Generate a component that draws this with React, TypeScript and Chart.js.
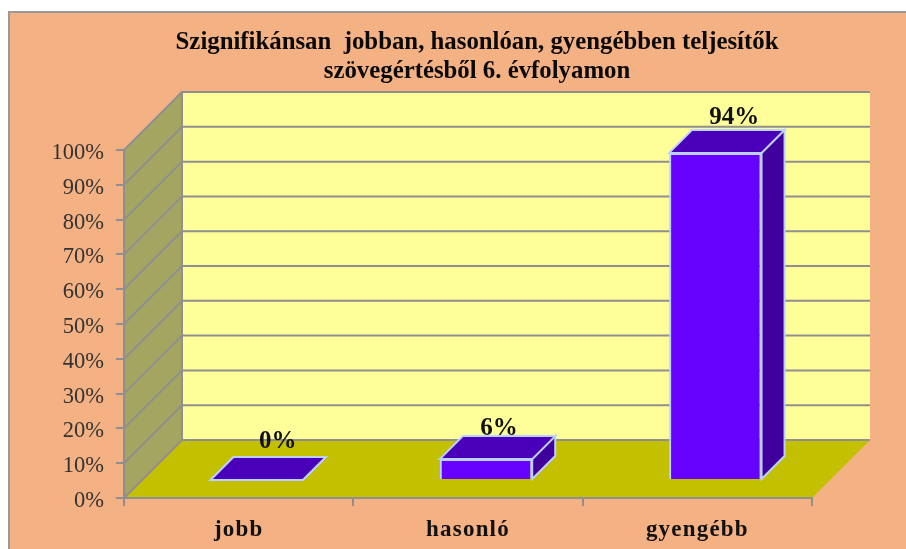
import React, { useEffect, useRef } from "react";
import { Chart, registerables } from "chart.js";

Chart.register(...registerables);

const categories = ["jobb", "hasonló", "gyengébb"];
const shares = [0, 6, 94];
const titleLines = [
  "Szignifikánsan  jobban, hasonlóan, gyengébben teljesítők",
  "szövegértésből 6. évfolyamon",
];
const labelNudgeX = [21, 13, 19];
const labelNudgeY = [-15, -8, -12];

const SERIF = "'Liberation Serif', 'Times New Roman', serif";
const GRID = "#8f8f8f";
const EDGE = "#bcd0ff";
const WALL_DEPTH = 58;
const BAR_SHIFT = 18;
const BAR_DEPTH = 23;

const poly = (ctx: CanvasRenderingContext2D, pts: number[][], fill: string) => {
  ctx.beginPath();
  pts.forEach(([x, y], i) => (i ? ctx.lineTo(x, y) : ctx.moveTo(x, y)));
  ctx.closePath();
  ctx.fillStyle = fill;
  ctx.fill();
};

const box3d = {
  id: "box3d",
  beforeDraw(chart: any) {
    const { ctx, chartArea: a, scales } = chart;
    const d = WALL_DEPTH;
    const y = scales.y;
    ctx.save();
    poly(ctx, [[a.left + d, a.top - d], [a.right + d, a.top - d], [a.right + d, a.bottom - d], [a.left + d, a.bottom - d]], "#ffff99");
    poly(ctx, [[a.left, a.top], [a.left + d, a.top - d], [a.left + d, a.bottom - d], [a.left, a.bottom]], "#a5a562");
    poly(ctx, [[a.left, a.bottom], [a.left + d, a.bottom - d], [a.right + d, a.bottom - d], [a.right, a.bottom]], "#c3c000");
    ctx.strokeStyle = GRID;
    ctx.lineWidth = 2;
    for (const v of y.ticks.map((t: any) => t.value)) {
      const py = y.getPixelForValue(v);
      ctx.beginPath();
      ctx.moveTo(a.left, py);
      ctx.lineTo(a.left + d, py - d);
      ctx.lineTo(a.right + d, py - d);
      ctx.stroke();
    }
    ctx.beginPath();
    ctx.moveTo(a.left + d, a.top - d);
    ctx.lineTo(a.left + d, a.bottom - d);
    ctx.stroke();
    ctx.restore();
  },
  beforeDatasetDraw(chart: any) {
    chart.ctx.save();
    chart.ctx.translate(BAR_SHIFT, -BAR_SHIFT);
  },
  afterDatasetDraw(chart: any, args: any) {
    const { ctx } = chart;
    const d = BAR_DEPTH;
    args.meta.data.forEach((bar: any) => {
      const p = bar.getProps(["x", "y", "base", "width"], true);
      const l = p.x - p.width / 2;
      const r = p.x + p.width / 2;
      const side = [[r, p.y], [r + d, p.y - d], [r + d, p.base - d], [r, p.base]];
      const top = [[l, p.y], [l + d, p.y - d], [r + d, p.y - d], [r, p.y]];
      poly(ctx, side, "#3f009c");
      ctx.strokeStyle = EDGE;
      ctx.lineWidth = 2;
      ctx.stroke();
      poly(ctx, top, "#4a00b8");
      ctx.stroke();
    });
    ctx.restore();
  },
  afterDatasetsDraw(chart: any) {
    const { ctx } = chart;
    const meta = chart.getDatasetMeta(0);
    ctx.save();
    ctx.fillStyle = "#111";
    ctx.font = `bold 25px ${SERIF}`;
    ctx.textAlign = "center";
    ctx.textBaseline = "middle";
    meta.data.forEach((bar: any, i: number) => {
      const value = chart.data.datasets[0].data[i];
      ctx.fillText(`${value}%`, bar.x + BAR_SHIFT + labelNudgeX[i], bar.y - BAR_SHIFT - BAR_DEPTH + labelNudgeY[i]);
    });
    ctx.restore();
    // the category labels (ticks.z = 1) are drawn right after this hook
    ctx.letterSpacing = "1.2px";
  },
  afterDraw(chart: any) {
    chart.ctx.letterSpacing = "0px";
  },
};

export default function App() {
  const ref = useRef<HTMLCanvasElement>(null);
  useEffect(() => {
    const chart = new Chart(ref.current as HTMLCanvasElement, {
      type: "bar",
      data: {
        labels: categories,
        datasets: [
          {
            data: shares,
            backgroundColor: "#6600ff",
            borderColor: EDGE,
            borderWidth: 2,
            barPercentage: 0.403,
            categoryPercentage: 1,
            clip: false,
          },
        ],
      },
      options: {
        responsive: false,
        animation: false,
        layout: { padding: 0 },
        plugins: {
          legend: { display: false },
          tooltip: { enabled: false },
          title: {
            display: true,
            text: titleLines,
            color: "#0a0a0a",
            font: { family: SERIF, size: 24.8, weight: "bold", lineHeight: 1.17 },
            padding: { top: 28, bottom: 64 },
          },
        },
        scales: {
          x: {
            afterFit: (s: any) => { s.height = 51; },
            grid: { drawOnChartArea: false, color: GRID, lineWidth: 2, tickLength: 8, tickColor: GRID },
            border: { color: GRID, width: 2 },
            ticks: { z: 1, color: "#111", padding: 10, maxRotation: 0, font: { family: SERIF, size: 23, weight: "bold" } },
          },
          y: {
            min: 0,
            max: 100,
            afterFit: (s: any) => { s.width = 76; },
            grid: { drawOnChartArea: false, color: GRID, lineWidth: 2, tickLength: 8, tickColor: GRID },
            border: { color: GRID, width: 2 },
            ticks: {
              stepSize: 10,
              color: "#333",
              padding: 12,
              labelOffset: 3,
              font: { family: SERIF, size: 22.5 },
              callback: (v: any) => `${v}%`,
            },
          },
          spacer: {
            position: "right",
            afterFit: (s: any) => { s.width = 94; },
            grid: { display: false },
            border: { display: false },
            ticks: { display: false },
          },
        },
      },
      plugins: [box3d],
    } as any);
    return () => chart.destroy();
  }, []);
  return (
    <div style={{ position: "fixed", left: 0, top: 0, width: 906, height: 549, overflow: "hidden", background: "#fff" }}>
      <div
        style={{
          position: "absolute",
          left: 8,
          top: 11,
          right: 0,
          bottom: 0,
          background: "#f4b183",
          borderLeft: "2px solid #999",
          borderTop: "2px solid #999",
        }}
      />
      <canvas ref={ref} width={858} height={549} style={{ position: "absolute", left: 48, top: 0, display: "block" }} />
    </div>
  );
}
